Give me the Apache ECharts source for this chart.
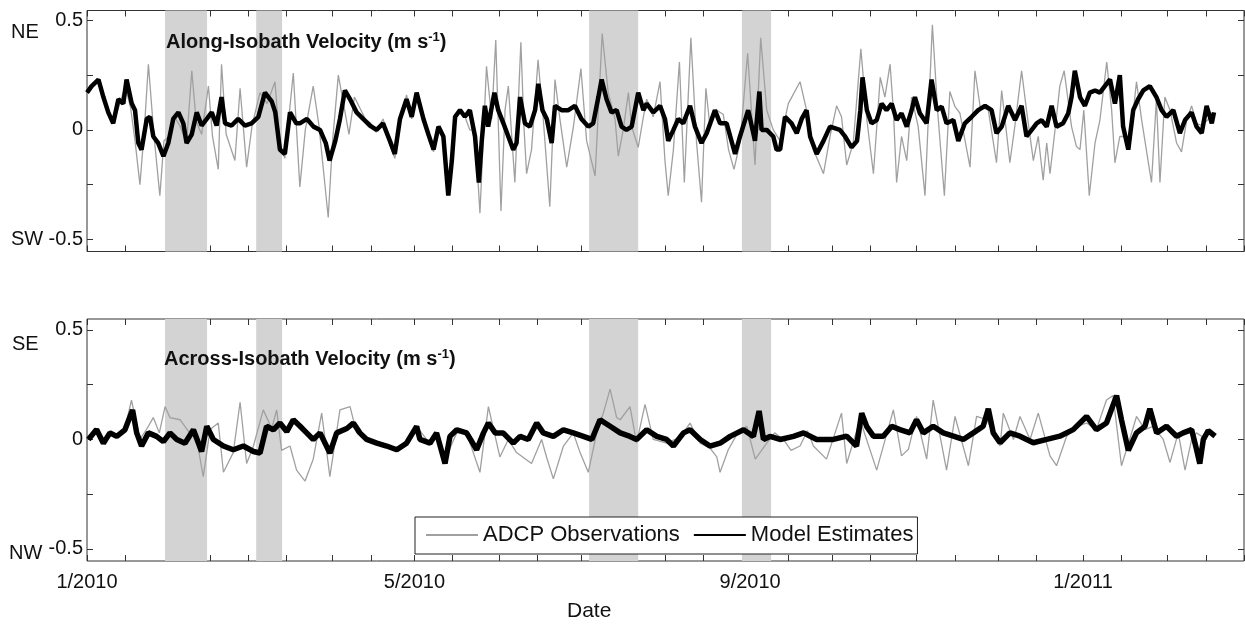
<!DOCTYPE html>
<html>
<head>
<meta charset="utf-8">
<script src="https://cdn.jsdelivr.net/npm/echarts@6/dist/echarts.min.js"></script>
<style>
html,body{margin:0;padding:0;background:#fff;}
#chart{width:1245px;height:624px;}
</style>
</head>
<body>
<div id="chart"></div>
<script>
// x values are days since 1 Jan 2010
var monthStarts = [0,31,59,90,120,151,181,212,243,273,304,334,365,396,424];
var tickLabels = {0:'1/2010',120:'5/2010',243:'9/2010',365:'1/2011'};
var labelDays = [0,120,243,365];
var shadedBands = [[28.6,44],[62,71.5],[184,202],[240,250.7]];

// ---- Along-isobath velocity: ADCP observations ----
var alongObsDay = [0,2,4,6,8,10,12,14,16,17.6,19.4,21,22.5,24.5,26.7,28.2,30,32,34,36.5,38.4,40,42,44.5,46,48.1,49.3,51,54.2,56.1,58.5,60.5,63.4,66,68.9,70.5,72.5,75.6,78,80,82.9,85,88.4,90,92.1,94,96,98,100,102,104,106,108.5,111,112.8,114.7,117.1,119,120.8,123.3,125.1,127,128.8,130.6,132.4,133.7,134.9,136.7,138.5,140.3,142.2,144,146.4,148.3,149.8,151.7,153.2,154.4,156.8,159,160.1,161.1,162.9,165.3,167.2,169.6,171.5,173.3,175.8,178.2,181,183.1,186.2,188.8,191,193.5,194.7,196.5,198.4,199.6,202,203.9,205.1,207.5,210,211.8,213,214.9,217.1,218.9,221.3,223.4,225.2,226.8,228.3,230.8,233.2,235.1,237.1,239.3,242.1,244.8,246.9,249.1,251.5,254,257,261.3,263.7,266.2,269.9,272.3,274.7,276.5,278.4,280.8,283.6,285.8,288.2,290.7,292.4,294.3,295.5,296.7,298.5,300.4,302.2,304.6,307.1,309.8,311.7,314.2,316.2,318.1,319.9,323.6,325.4,327.3,330.3,333.3,335.2,338.2,340,342.5,344.3,346.8,348.6,350.4,351.7,352.9,355.3,356.5,358.1,360.8,362.6,363.9,365.3,367.3,369.4,371.2,373.7,375.5,376.7,378.5,380.4,382.2,384.6,386.5,390.1,391.9,393.2,395,396.9,399.3,401.1,403,404.8,406.6,408.5,411];
var alongObsVal = [0.17,0.20,0.22,0.14,0.07,0.04,0.12,0.20,0.10,-0.05,-0.25,0.00,0.30,-0.02,-0.30,-0.05,-0.03,0.06,0.02,-0.06,0.27,0.04,-0.02,0.20,-0.03,-0.18,0.30,-0.02,-0.14,0.19,-0.17,0.02,0.17,0.12,0.22,-0.05,-0.13,0.26,-0.26,0.00,0.20,0.02,-0.40,-0.05,0.25,0.12,-0.02,0.15,0.10,0.05,0.03,-0.01,0.05,-0.07,-0.13,0.04,0.16,0.05,0.15,0.07,-0.03,-0.10,0.02,-0.05,-0.22,-0.12,0.05,0.08,0.06,0.00,0.00,-0.38,0.29,0.05,0.41,-0.37,0.09,0.20,-0.24,0.40,0.02,-0.20,-0.09,0.32,0.05,-0.35,0.23,0.05,-0.17,0.01,0.28,-0.05,-0.21,0.44,0.17,0.05,-0.12,0.00,0.17,0.015,-0.08,0.06,0.14,0.06,0.22,-0.14,-0.30,-0.09,0.31,-0.24,0.42,-0.06,-0.33,0.19,0.015,0.09,0.07,-0.09,-0.18,-0.06,0.35,-0.16,0.42,0.09,0.00,-0.05,0.12,0.22,0.09,-0.09,-0.20,-0.03,0.11,0.06,-0.16,-0.06,0.37,0.045,-0.20,0.24,0.15,0.30,0.09,-0.24,-0.03,-0.14,0.15,0.015,-0.30,0.48,0.09,-0.30,0.175,0.106,0.076,-0.17,0.27,0.106,0.09,-0.15,0.18,-0.15,0.015,0.27,0.09,-0.14,-0.03,-0.23,-0.06,-0.20,0.06,0.20,0.27,0.015,-0.076,-0.09,0.09,-0.30,-0.06,0.045,0.31,0.09,-0.15,-0.03,-0.03,-0.06,0.22,0.045,-0.24,0.14,-0.24,0.15,0.09,-0.06,-0.10,0.045,0.11,0.03,0.02,0.05];

// ---- Along-isobath velocity: model estimates ----
var alongModDay = [0,1.7,4.2,6,7.8,9.6,11.5,13.3,14.5,16.4,17.6,18.8,20,21.9,23.1,24.3,26.1,28,29.8,31.6,33.5,35.3,36.5,38.4,40.2,42,43.9,45.7,47.5,49.3,50.6,53,55.4,57.9,60.3,62.8,65.2,67.7,69,70.7,72.5,74.4,76.7,78,80.6,83,85.4,87.5,88.9,91,92.7,94.5,96.4,98.8,101.2,103.7,106.1,108.5,111,112.8,114.7,117.1,119,120.8,123.3,125.1,127,128.8,130.6,132.4,133.7,134.9,136.7,138.5,140.3,142.2,143.6,144.6,145.8,147,149.3,150.7,152.6,154.4,156.2,157.4,158.7,160.5,162.3,164.2,165.4,166.9,168.5,170.3,171.5,173.9,176.4,178.8,181.2,183.7,185.5,187.4,188.6,190.4,192.2,194.1,195.9,197.7,199.6,202,203.9,205.1,207.5,210,211.8,213,214.9,216.7,218.5,221,222.8,225.2,227.1,230.1,232,234.4,237.5,239.3,242.3,244.8,246.4,247.2,249.1,251.5,252.7,254,255.8,258.2,260.1,261.9,263.7,265,267.4,269.9,272.3,275.9,277.8,280.2,282.2,283.4,284.2,285.8,287.5,289.4,291.2,293,294.9,296.7,298.5,300.4,302.2,303.4,305.2,307.7,309.5,311.4,313.2,315,317.5,319.3,321.7,324.2,326.6,329.1,331.5,333.3,335.2,337.6,340.1,342.5,344.3,346.2,348,349.8,351.7,353.5,355.3,357.7,359.6,360.8,362,363.9,365.7,367.5,369.4,371.2,373,374.9,376.7,378.5,379.7,381.6,383.4,385.2,387.1,389.5,391.9,393.8,395.6,398.1,400.5,402.4,404.8,406.6,408.5,410.3,412.2,413];
var alongModVal = [0.17,0.20,0.23,0.15,0.08,0.03,0.14,0.12,0.23,0.12,0.09,-0.06,-0.09,0.05,0.06,-0.03,-0.06,-0.12,-0.06,0.05,0.08,0.03,-0.06,-0.02,0.08,0.02,0.05,0.08,0.02,0.15,0.03,0.02,0.05,0.02,0.03,0.06,0.17,0.13,0.08,-0.09,-0.11,0.08,0.03,0.03,0.05,0.015,0.00,-0.06,-0.14,-0.05,0.05,0.18,0.14,0.08,0.05,0.02,0.00,0.03,-0.05,-0.11,0.05,0.14,0.06,0.17,0.05,-0.02,-0.09,0.015,-0.03,-0.30,-0.14,0.06,0.09,0.06,0.09,-0.03,-0.24,-0.06,0.11,0.015,0.17,0.09,0.03,-0.03,-0.09,-0.06,0.15,0.03,0.015,0.09,0.21,0.09,0.05,-0.06,0.11,0.09,0.09,0.11,0.05,0.015,0.03,0.15,0.23,0.14,0.08,0.09,0.015,0.00,0.015,0.17,0.09,0.12,0.08,0.11,0.05,-0.05,0.00,0.05,0.03,0.11,0.015,-0.06,-0.015,0.09,0.03,0.03,-0.11,-0.03,0.09,-0.05,0.175,0.00,0.00,-0.03,-0.09,-0.09,0.06,0.03,-0.015,0.05,0.09,-0.03,-0.11,-0.05,0.015,0.00,-0.03,-0.08,-0.05,0.09,0.24,0.09,0.03,0.045,0.12,0.09,0.12,0.045,0.076,0.015,0.09,0.15,0.076,0.03,0.23,0.09,0.106,0.03,0.045,-0.05,0.03,0.06,0.09,0.11,0.09,-0.015,0.015,0.11,0.045,0.11,-0.03,0.00,0.03,0.045,0.015,0.11,0.015,0.03,0.076,0.15,0.27,0.15,0.11,0.17,0.18,0.17,0.20,0.23,0.12,0.25,0.015,-0.09,0.09,0.14,0.18,0.20,0.15,0.09,0.06,0.09,-0.015,0.045,0.08,0.015,-0.015,0.11,0.03,0.08];

// ---- Across-isobath velocity: ADCP observations ----
var acrossObsDay = [0,3.5,6,8.4,10.9,13.9,16.3,19.4,22,24.3,26.5,28.6,30.4,34.1,37,40.2,42.6,45.1,48.1,50,53.6,56.1,58.5,61,64.6,67.7,69.5,71.3,74.4,76.8,79.9,82.9,86,89,92.7,96.4,98.8,100,102.5,106.2,109.8,113.5,117.1,120.8,125.7,128.1,131.2,135.5,139.1,144,147.1,151.3,154.4,157.4,162.9,166.6,168.4,170.9,174.6,178.2,180.7,183.7,186.8,189.2,191.7,194.1,195.4,199,201.4,204.5,207.5,212.4,217.3,221,224.7,228.3,230.8,232,235,238,241.8,244.9,249.1,252,255.2,258,261.3,264,266.2,271,276.5,278.4,283.3,289.4,295.5,298.5,301,304,307.7,310.1,315,318.1,323,326,329.7,334.6,335.8,339.5,341.9,345.6,348.6,352.9,355.3,359,362.6,366.3,369.9,373.6,376,379.1,382.1,384.6,387.7,390.7,394.4,396.9,399.9,402.4,404.8,406.6,410.3];
var acrossObsVal = [0.00,0.05,-0.02,0.04,0.01,0.05,0.18,0.00,0.05,0.10,0.03,0.15,0.10,0.09,0.04,0.00,-0.17,0.045,0.075,-0.15,-0.06,0.17,-0.11,-0.03,0.135,0.05,0.135,-0.05,-0.03,-0.14,-0.19,-0.09,0.12,-0.17,0.135,0.15,0.03,0.03,0.00,-0.02,-0.03,-0.05,-0.02,0.06,-0.02,0.03,-0.09,0.03,0.03,-0.15,0.15,-0.08,0.00,-0.06,-0.11,0.00,-0.08,-0.18,-0.03,0.03,-0.06,-0.15,0.03,0.12,0.23,0.10,0.09,0.15,-0.017,0.16,0.00,-0.017,0.01,0.075,-0.017,-0.04,-0.08,-0.15,-0.047,0.02,0.06,-0.09,-0.017,0.03,0.00,-0.05,-0.03,0.04,-0.03,-0.09,0.12,-0.11,0.09,-0.14,0.135,-0.075,-0.045,0.105,-0.09,0.18,-0.14,0.105,-0.12,0.105,0.09,-0.03,0.12,0.00,0.105,0.00,0.12,-0.075,-0.12,0.015,0.06,0.075,0.045,0.18,0.20,-0.12,0.00,0.105,0.045,0.06,0.00,-0.105,0.03,-0.14,0.00,0.03,0.00];

// ---- Across-isobath velocity: model estimates ----
var acrossModDay = [0.5,3.5,6,8.4,10.9,13.9,16.7,18.2,20,22.5,25.5,28,30.4,32.9,35.9,39,42,43.9,46.3,50,53.6,57.3,61,63.4,65.8,68.3,70.7,73.2,75.6,78.1,80.5,82.9,85.4,89,91.5,95.2,97.6,100,102.5,106.2,109.8,113.5,117.1,120.8,122,125.7,128.1,131.2,133,135.5,139.1,142.8,145.3,147.1,149.6,152.5,156.2,158.7,161.7,164.8,167.2,170.9,174.6,178.2,181.9,185,188,191.7,195.4,199,201.4,205.1,208.8,212.4,214.9,218.6,221,224.7,228.3,232,235.7,240.6,244.2,246.3,247.9,250.3,254,258.9,262.6,267.4,273.5,278.4,282,283.9,285.7,288.2,291.8,294.9,297.9,301.6,304,306.5,310.1,313.8,317.5,321.1,324.8,328.4,330.3,332.1,334.6,338.2,341.9,346.8,351.7,356.5,361.4,366.3,369.9,373.6,377.3,379.1,381.6,384.6,387.7,389.5,392,395.6,399.3,401.7,404.8,406.6,407.8,409.1,410.9,413.4];
var acrossModVal = [0.00,0.045,-0.017,0.03,0.014,0.044,0.135,0.03,-0.03,0.03,0.014,-0.01,0.03,0.00,-0.017,0.044,-0.055,0.06,0.00,-0.03,-0.047,-0.03,-0.055,-0.062,0.06,0.044,0.075,0.036,0.09,0.06,0.03,0.00,0.03,-0.062,0.03,0.05,0.075,0.03,0.00,-0.017,-0.03,-0.047,-0.017,0.06,0.00,-0.017,0.03,-0.11,0.014,0.044,0.03,-0.047,0.03,0.075,0.03,0.03,-0.017,0.014,0.00,0.075,0.03,0.014,0.044,0.03,0.014,0.00,0.09,0.06,0.03,0.014,0.00,0.044,0.014,0.00,-0.03,0.03,0.044,0.00,-0.03,-0.017,0.014,0.044,0.014,0.13,0.00,0.014,0.00,0.014,0.03,0.00,0.00,0.015,-0.03,0.12,0.06,0.015,0.015,0.06,0.045,0.03,0.09,0.03,0.06,0.03,0.015,0.00,0.03,0.06,0.14,0.03,-0.015,0.03,0.015,-0.015,0.00,0.015,0.045,0.105,0.045,0.075,0.20,0.09,-0.05,0.03,0.06,0.14,0.03,0.06,0.015,0.03,0.045,-0.045,-0.11,0.00,0.04,0.015];

function pairs(days, vals){ return days.map(function(d,i){ return [d, vals[i]]; }); }

var tickDays = [];
monthStarts.forEach(function(m,i){ tickDays.push(m); if (i < monthStarts.length-1) tickDays.push(m+14); });

var FONT = 'Liberation Sans, Arial, Helvetica, sans-serif';
var chart = echarts.init(document.getElementById('chart'), null, {renderer:'canvas'});

var grids = [
  {left:87, right:1, top:10.5, height:241, show:true, borderColor:'#333', borderWidth:1, backgroundColor:'transparent'},
  {left:87, right:1, top:319, height:242, show:true, borderColor:'#333', borderWidth:1, backgroundColor:'transparent'}
];

function xAx(gi, pos, showLabel){
  return {
    type:'value', gridIndex:gi, position:pos, min:0, max:424,
    axisLine:{show:false, onZero:false}, splitLine:{show:false},
    axisTick:{show:true, inside:true, length:6, customValues:tickDays, lineStyle:{color:'#333'}},
    axisLabel:{show:showLabel, customValues:labelDays, formatter:function(v){ return tickLabels[Math.round(v)] || ''; },
      color:'#111', fontSize:20, fontFamily:FONT, margin:11}
  };
}
function yAx(gi, pos, showLabel, mn, mx){
  return {
    type:'value', gridIndex:gi, position:pos, min:mn, max:mx,
    axisLine:{show:false, onZero:false}, splitLine:{show:false},
    axisTick:{show:true, inside:true, length:6, customValues:[-0.5,-0.25,0,0.25,0.5], lineStyle:{color:'#333'}},
    axisLabel:{show:showLabel, customValues:[-0.5,0,0.5], formatter:function(v){ return v===0?'0':String(v); },
      color:'#111', fontSize:20, fontFamily:FONT, margin:4}
  };
}

var bandData = shadedBands.map(function(b){ return [{xAxis:b[0]},{xAxis:b[1]}]; });

function bandSeries(gi){
  return {type:'line', xAxisIndex:gi*2, yAxisIndex:gi*2, data:[], silent:true, z:1,
    markArea:{silent:true, itemStyle:{color:'#d3d3d3'}, data:bandData}};
}

var titleRich = {t:{font:'bold 20px '+FONT, fill:'#111'}, s:{font:'bold 13px '+FONT, fill:'#111', verticalAlign:'top', padding:[0,0,9,0]}};

var option = {
  animation:false,
  backgroundColor:'#fff',
  grid:grids,
  xAxis:[xAx(0,'bottom',false), xAx(0,'top',false), xAx(1,'bottom',true), xAx(1,'top',false)],
  yAxis:[yAx(0,'left',true,-0.555,0.545), yAx(0,'right',false,-0.555,0.545), yAx(1,'left',true,-0.555,0.55), yAx(1,'right',false,-0.555,0.55)],
  legend:{
    left:415, top:517, orient:'horizontal',
    data:['ADCP Observations','Model Estimates'],
    itemWidth:52, itemHeight:12, itemGap:13,
    padding:[7,4,8,10],
    itemStyle:{opacity:0},
    borderColor:'#222', borderWidth:1, backgroundColor:'#fff',
    textStyle:{fontSize:22, fontFamily:FONT, color:'#111'}
  },
  graphic:[
    {type:'text', z:100, left:11, top:22, style:{text:'NE', font:'20px '+FONT, fill:'#111'}},
    {type:'text', z:100, left:11, top:229, style:{text:'SW', font:'20px '+FONT, fill:'#111'}},
    {type:'text', z:100, left:12, top:334, style:{text:'SE', font:'20px '+FONT, fill:'#111'}},
    {type:'text', z:100, left:9, top:543, style:{text:'NW', font:'20px '+FONT, fill:'#111'}},
    {type:'text', z:100, left:166, top:31, style:{text:'{t|Along-Isobath Velocity (m s}{s|-1}{t|)}', rich:titleRich}},
    {type:'text', z:100, left:164, top:348, style:{text:'{t|Across-Isobath Velocity (m s}{s|-1}{t|)}', rich:titleRich}},
    {type:'text', z:100, left:567, top:601, style:{text:'Date', font:'21px '+FONT, fill:'#111'}}
  ],
  series:[
    bandSeries(0),
    bandSeries(1),
    {name:'ADCP Observations', type:'line', xAxisIndex:0, yAxisIndex:0, data:pairs(alongObsDay, alongObsVal),
      symbol:'none', showSymbol:false, z:2, lineStyle:{color:'#a0a0a0', width:1.3}, itemStyle:{color:'#a0a0a0'}},
    {name:'Model Estimates', type:'line', xAxisIndex:0, yAxisIndex:0, data:pairs(alongModDay, alongModVal),
      symbol:'none', showSymbol:false, z:3, lineStyle:{color:'#000', width:4.5}, itemStyle:{color:'#000'}},
    {name:'ADCP Observations', type:'line', xAxisIndex:2, yAxisIndex:2, data:pairs(acrossObsDay, acrossObsVal),
      symbol:'none', showSymbol:false, z:2, lineStyle:{color:'#a0a0a0', width:1.3}, itemStyle:{color:'#a0a0a0'}},
    {name:'Model Estimates', type:'line', xAxisIndex:2, yAxisIndex:2, data:pairs(acrossModDay, acrossModVal),
      symbol:'none', showSymbol:false, z:3, lineStyle:{color:'#000', width:5.5}, itemStyle:{color:'#000'}}
  ]
};
chart.setOption(option);
</script>
</body>
</html>
